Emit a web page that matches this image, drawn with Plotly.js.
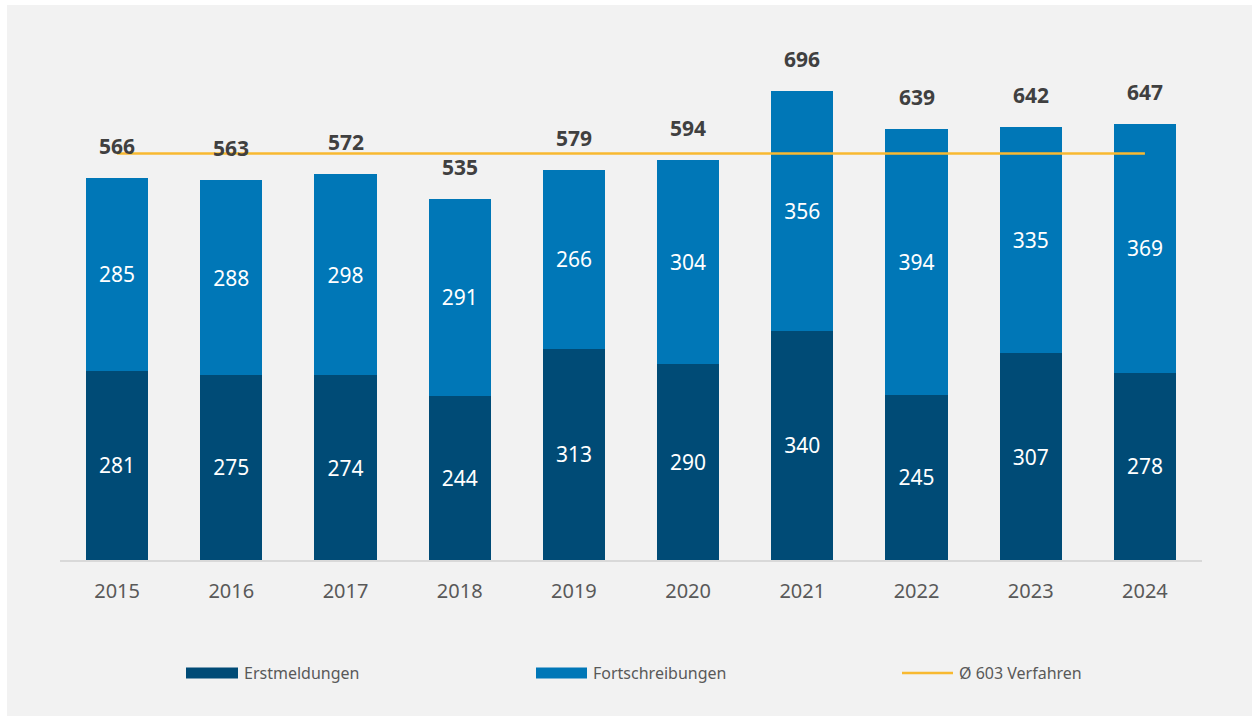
<!DOCTYPE html>
<html>
<head>
<meta charset="utf-8">
<script src="https://cdn.plot.ly/plotly-3.0.1.min.js"></script>
<style>
  html, body { margin: 0; padding: 0; background: #ffffff; }
  #chart { position: absolute; left: 7px; top: 5px; width: 1245px; height: 711px; }
</style>
</head>
<body>
<div id="chart"></div>
<script>
// ---- data ----
const years = ["2015","2016","2017","2018","2019","2020","2021","2022","2023","2024"];
const erstmeldungen = [281, 275, 274, 244, 313, 290, 340, 245, 307, 278];
const fortschreibungen = [285, 288, 298, 291, 266, 304, 356, 394, 335, 369];
const totals = [566, 563, 572, 535, 579, 594, 696, 639, 642, 647];
const averageValue = 603;
const seriesNames = ["Erstmeldungen", "Fortschreibungen", "Ø 603 Verfahren"];

// ---- styling ----
const W = 1245, H = 711;
const M = { l: 53, r: 50, t: 15, b: 156 };
const plotW = W - M.l - M.r, plotH = H - M.t - M.b;
const cDark = "#004b76", cLight = "#0077b7", cAvg = "#f8b930";
const txtGrey = "#595959", fontFam = "'Noto Sans', 'Open Sans', sans-serif";

const traces = [
  {
    type: "bar", x: years, y: erstmeldungen, name: seriesNames[0],
    marker: { color: cDark },
    text: erstmeldungen.map(String), textposition: "inside", insidetextanchor: "middle",
    textfont: { color: "#ffffff", size: 21, family: fontFam },
    hoverinfo: "x+y+name", showlegend: false
  },
  {
    type: "bar", x: years, y: fortschreibungen, name: seriesNames[1],
    marker: { color: cLight },
    text: fortschreibungen.map(String), textposition: "inside", insidetextanchor: "middle",
    textfont: { color: "#ffffff", size: 21, family: fontFam },
    hoverinfo: "x+y+name", showlegend: false
  },
  {
    type: "scatter", mode: "lines", x: years, y: years.map(() => averageValue),
    name: seriesNames[2], line: { color: cAvg, width: 2.5 }, showlegend: false
  }
];

// totals above the bars (x given as category index)
const annotations = years.map((yr, i) => ({
  x: i, y: totals[i], xref: "x", yref: "y",
  text: String(totals[i]), showarrow: false, yanchor: "middle", yshift: 32,
  font: { size: 21, color: "#404040", family: fontFam, weight: "bold" }
}));

// custom legend, positioned in pixels of the div
const px2x = p => (p - M.l) / plotW;
const px2y = p => (M.t + plotH - p) / plotH;
const legY = 668;
const shapes = [
  { type: "rect", xref: "paper", yref: "paper", x0: px2x(179), x1: px2x(231), y0: px2y(legY + 5.5), y1: px2y(legY - 5.5), fillcolor: cDark, line: { width: 0 } },
  { type: "rect", xref: "paper", yref: "paper", x0: px2x(529), x1: px2x(580), y0: px2y(legY + 5.5), y1: px2y(legY - 5.5), fillcolor: cLight, line: { width: 0 } },
  { type: "line", xref: "paper", yref: "paper", x0: px2x(895), x1: px2x(946), y0: px2y(legY), y1: px2y(legY), line: { color: cAvg, width: 2.5 } }
];
[[235, seriesNames[0]], [584, seriesNames[1]], [950, seriesNames[2]]].forEach(([p, t]) => {
  annotations.push({
    xref: "paper", yref: "paper", x: px2x(p), y: px2y(legY), xanchor: "left", yanchor: "middle",
    text: t, showarrow: false, font: { size: 16, color: txtGrey, family: fontFam }
  });
});

const layout = {
  width: W, height: H,
  margin: M,
  paper_bgcolor: "#f2f2f2", plot_bgcolor: "#f2f2f2",
  barmode: "stack", bargap: 0.455,
  showlegend: false,
  font: { family: fontFam, color: txtGrey },
  xaxis: {
    type: "category", range: [-0.5, years.length - 0.5], autorange: false,
    showgrid: false, zeroline: false,
    showline: true, linecolor: "#d9d9d9", linewidth: 1.5,
    ticks: "", ticklabelstandoff: 12,
    tickfont: { size: 20, color: txtGrey, family: fontFam }
  },
  yaxis: {
    range: [0, 801], autorange: false, showgrid: false, zeroline: false, showticklabels: false, showline: false, ticks: ""
  },
  annotations: annotations,
  shapes: shapes
};

Plotly.newPlot("chart", traces, layout, { displayModeBar: false, staticPlot: true });
</script>
</body>
</html>
